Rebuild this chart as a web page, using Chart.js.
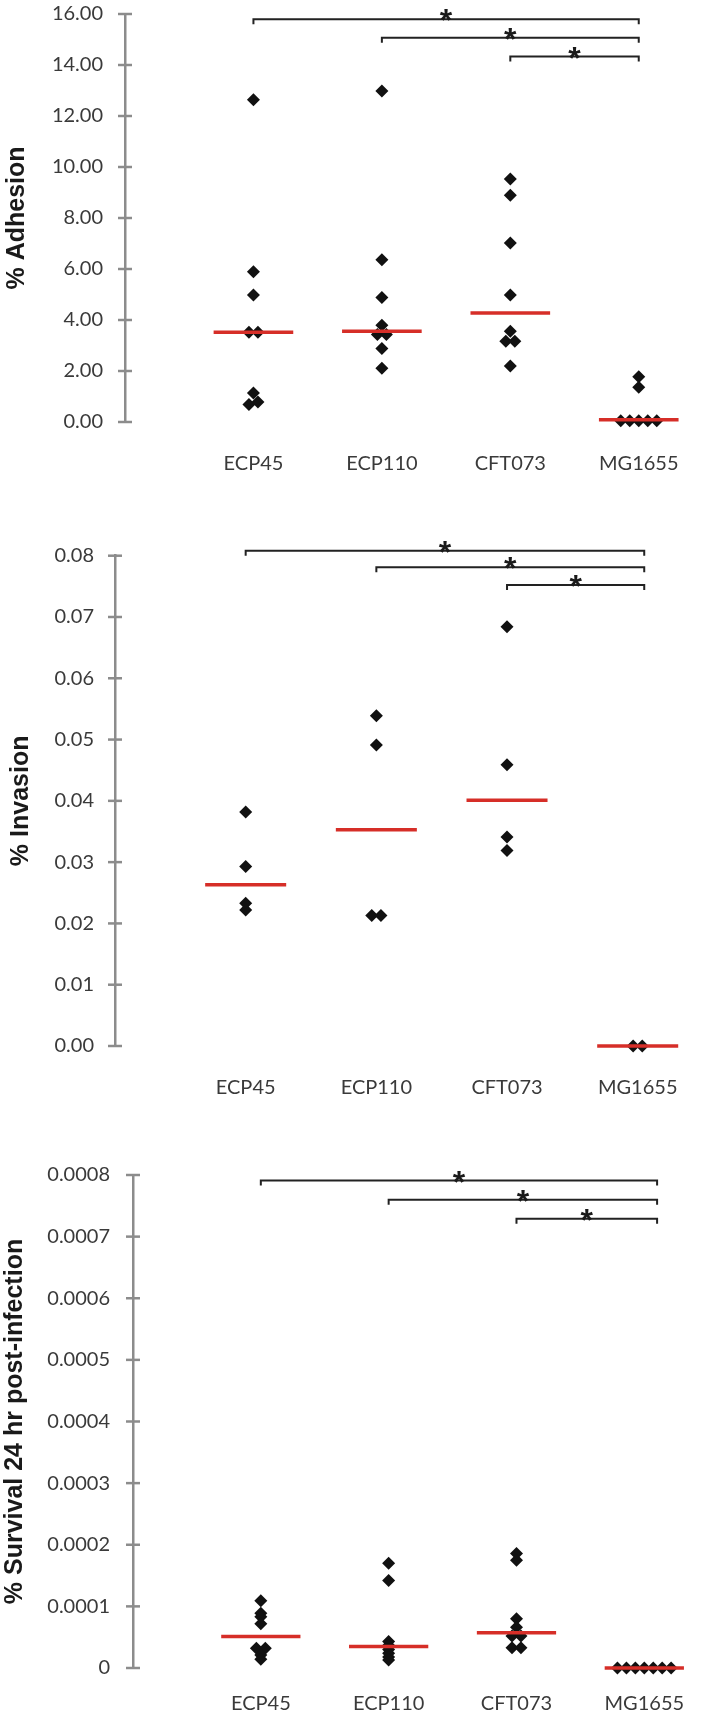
<!DOCTYPE html>
<html>
<head>
<meta charset="utf-8">
<script src="https://cdn.jsdelivr.net/npm/chart.js@4/dist/chart.umd.min.js"></script>
<style>
	body { margin: 0; background: #fff; width: 709px; height: 1715px; overflow: hidden; position: relative; }
	.panel { position: absolute; left: 0; width: 709px; }
</style>
</head>
<body>
<div class="panel" style="top:-20px"><canvas id="adhesionChart" width="709" height="502"></canvas></div>
<div class="panel" style="top:520px"><canvas id="invasionChart" width="709" height="586"></canvas></div>
<div class="panel" style="top:1140px"><canvas id="survivalChart" width="709" height="575"></canvas></div>
<script>
const groups = ["ECP45", "ECP110", "CFT073", "MG1655"];

// % Adhesion, one list per strain
const adhesion = [
	[12.64, 5.89, 4.98, 3.52, 3.52, 1.14, 0.78, 0.69],
	[12.98, 6.36, 4.88, 3.79, 3.43, 3.43, 2.88, 2.11],
	[9.53, 8.89, 7.02, 4.98, 3.56, 3.17, 3.17, 2.2],
	[1.77, 1.36, 0.05, 0.05, 0.05, 0.05, 0.05]
];
const adhesionMedians = [3.52, 3.56, 4.27, 0.09];
const adhesionTicks = [0, 2, 4, 6, 8, 10, 12, 14, 16];
// [from strain, to strain, bracket height]
const adhesionBrackets = [[1, 4, 15.79], [2, 4, 15.07], [3, 4, 14.33]];

// % Invasion
const invasion = [
	[0.0382, 0.0293, 0.0233, 0.0222],
	[0.0539, 0.0491, 0.0213, 0.0213],
	[0.0684, 0.0459, 0.0341, 0.0319],
	[0, 0]
];
const invasionMedians = [0.0263, 0.0353, 0.0401, 0];
const invasionTicks = [0, 0.01, 0.02, 0.03, 0.04, 0.05, 0.06, 0.07, 0.08];
const invasionBrackets = [[1, 4.05, 0.0808], [2, 4.05, 0.0781], [3, 4.05, 0.0752]];

// % Survival 24 hr post-infection
const survival = [
	[0.000109, 0.000089, 0.000083, 0.000072, 0.000032, 0.000032, 0.000021, 0.000014],
	[0.00017, 0.000142, 0.000043, 0.000037, 0.00003, 0.000024, 0.000018, 0.000013],
	[0.000186, 0.000175, 0.00008, 0.000066, 0.000052, 0.000052, 0.000033, 0.000033],
	[0, 0, 0, 0, 0, 0, 0]
];
const survivalMedians = [0.000051, 0.000035, 0.000057, 0];
const survivalTicks = [0, 0.0001, 0.0002, 0.0003, 0.0004, 0.0005, 0.0006, 0.0007, 0.0008];
const survivalBrackets = [[1, 4.1, 0.000791], [2, 4.1, 0.00076], [3, 4.1, 0.000729]];

const X_MAX = 4.31;
const HALF_BAR = 0.31;
const RED = "rgb(214, 46, 40)";
const AXIS_GREY = "#8c8c8c";
const LABEL_FONT = {family: "Lato", size: 20};

// Lay near-equal values side by side, like the original dot plot.
function spread(values, tol, step) {
	const offsets = values.map(() => 0);
	const sorted = values.map((v, i) => ({v, i})).sort((a, b) => a.v - b.v);
	let cluster = [];
	const flush = () => {
		cluster.forEach((p, k) => offsets[p.i] = (k - (cluster.length - 1) / 2) * step);
		cluster = [];
	};
	sorted.forEach(p => {
		if (cluster.length && p.v - cluster[cluster.length - 1].v >= tol) flush();
		cluster.push(p);
	});
	flush();
	return offsets;
}

const crossTicks = {
	id: "crossTicks",
	afterDraw(chart) {
		const {ctx, chartArea, scales: {y}} = chart;
		ctx.save();
		ctx.strokeStyle = AXIS_GREY;
		ctx.lineWidth = 2.5;
		y.ticks.forEach(t => {
			const py = y.getPixelForValue(t.value);
			ctx.beginPath();
			ctx.moveTo(chartArea.left - 7, py);
			ctx.lineTo(chartArea.left + 7, py);
			ctx.stroke();
		});
		ctx.restore();
	}
};

function bracketPlugin(items) {
	return {
		id: "brackets",
		afterDraw(chart) {
			const {ctx, scales: {x, y}} = chart;
			ctx.save();
			ctx.strokeStyle = "#222";
			ctx.fillStyle = "#1a1a1a";
			ctx.lineWidth = 2;
			ctx.font = "bold 32px 'Liberation Sans'";
			ctx.textAlign = "center";
			ctx.textBaseline = "alphabetic";
			items.forEach(([from, to, level]) => {
				const xa = x.getPixelForValue(from);
				const xb = x.getPixelForValue(to);
				const yl = y.getPixelForValue(level);
				ctx.beginPath();
				ctx.moveTo(xa, yl + 5);
				ctx.lineTo(xa, yl);
				ctx.lineTo(xb, yl);
				ctx.lineTo(xb, yl + 5);
				ctx.stroke();
				ctx.fillText("*", (xa + xb) / 2, yl + 12);
			});
			ctx.restore();
		}
	};
}

function buildDatasets(values, medians, ticks) {
	const range = ticks[ticks.length - 1] - ticks[0];
	const medianLines = medians.map((m, i) => ({
		type: "line",
		data: [{x: i + 1 - HALF_BAR, y: m}, {x: i + 1 + HALF_BAR, y: m}],
		borderColor: RED,
		borderWidth: 3.5,
		pointRadius: 0,
		clip: false
	}));
	const dots = values.map((group, i) => {
		const offsets = spread(group, range * 0.006, 0.07);
		return {
			type: "scatter",
			data: group.map((v, k) => ({x: i + 1 + offsets[k], y: v})),
			pointStyle: "rectRot",
			pointRadius: 6.5,
			backgroundColor: "#111",
			borderWidth: 0,
			clip: false
		};
	});
	return [...medianLines, ...dots];
}

function buildChartConfig(panel) {
	return {
		data: {
			datasets: buildDatasets(panel.values, panel.medians, panel.ticks)
		},
		options: {
			responsive: false,
			animation: false,
			events: [],
			layout: {
				padding: {top: panel.top, right: panel.right, left: 0, bottom: 0}
			},
			plugins: {
				legend: {display: false},
				tooltip: {enabled: false}
			},
			scales: {
				x: {
					type: "linear",
					min: 0,
					max: X_MAX,
					grid: {display: false, drawTicks: false},
					border: {display: false},
					afterBuildTicks: scale => {
						scale.ticks = groups.map((g, i) => ({value: i + 1}));
					},
					afterFit: scale => {
						scale.height = panel.xHeight;
					},
					ticks: {
						callback: (value, index) => groups[index],
						font: LABEL_FONT,
						color: "#3a3a3a",
						padding: panel.labelPad,
						maxRotation: 0,
						autoSkip: false
					}
				},
				y: {
					type: "linear",
					min: panel.ticks[0],
					max: panel.ticks[panel.ticks.length - 1],
					grid: {display: false, drawTicks: false},
					border: {color: AXIS_GREY, width: 2.5},
					afterBuildTicks: scale => {
						scale.ticks = panel.ticks.map(value => ({value}));
					},
					afterFit: scale => {
						scale.width = panel.axisWidth;
					},
					ticks: {
						callback: panel.format,
						font: LABEL_FONT,
						color: "#3a3a3a",
						padding: panel.tickPad
					},
					title: {
						display: true,
						text: panel.title,
						font: {family: "Liberation Sans", size: 25, weight: "bold"},
						color: "#1a1a1a",
						padding: {top: panel.titlePad, bottom: 0}
					}
				}
			}
		},
		plugins: [crossTicks, bracketPlugin(panel.brackets)]
	};
}

function plot(canvasId, panel) {
	const ctx = document.getElementById(canvasId).getContext("2d");
	return new Chart(ctx, buildChartConfig(panel));
}

plot("adhesionChart", {
	values: adhesion,
	medians: adhesionMedians,
	ticks: adhesionTicks,
	brackets: adhesionBrackets,
	title: "% Adhesion",
	format: v => v.toFixed(2),
	top: 29.3, right: 2, xHeight: 60,
	axisWidth: 125, tickPad: 22, labelPad: 30, titlePad: 2
});

plot("invasionChart", {
	values: invasion,
	medians: invasionMedians,
	ticks: invasionTicks,
	brackets: invasionBrackets,
	title: "% Invasion",
	format: v => v.toFixed(2),
	top: 35.7, right: 21, xHeight: 60,
	axisWidth: 115, tickPad: 21, labelPad: 30, titlePad: 6
});

plot("survivalChart", {
	values: survival,
	medians: survivalMedians,
	ticks: survivalTicks,
	brackets: survivalBrackets,
	title: "% Survival 24 hr post-infection",
	format: v => v === 0 ? "0" : v.toFixed(4),
	top: 34, right: 12.5, xHeight: 47,
	axisWidth: 133, tickPad: 23, labelPad: 24, titlePad: 0
});
</script>
</body>
</html>
